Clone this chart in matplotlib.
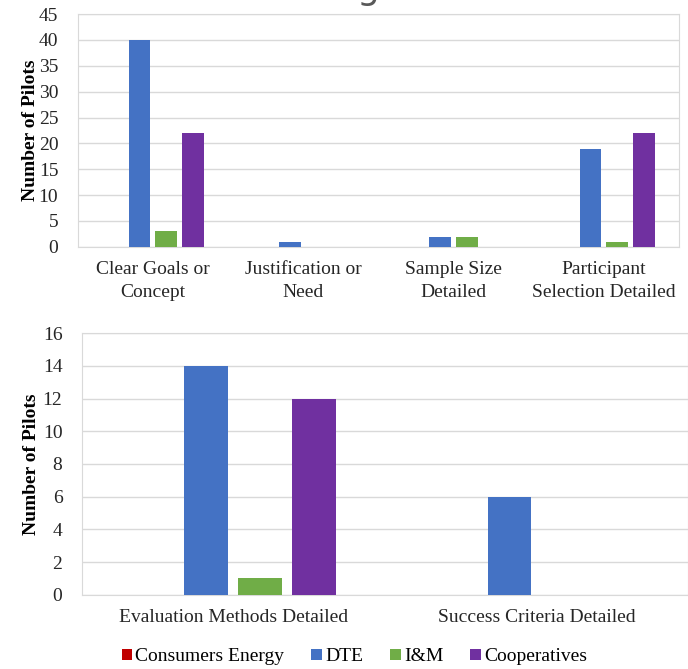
import numpy as np
import matplotlib
matplotlib.use("Agg")
import matplotlib.pyplot as plt
from matplotlib.patches import Patch

plt.rcParams["font.family"] = ["Liberation Serif", "DejaVu Serif"]

series = ["Consumers Energy", "DTE", "I&M", "Cooperatives"]
colors = ["#C00000", "#4472C4", "#70AD47", "#7030A0"]

top_categories = ["Clear Goals or\nConcept", "Justification or\nNeed",
                  "Sample Size\nDetailed", "Participant\nSelection Detailed"]
top_consumers = [0, 0, 0, 0]
top_dte = [40, 1, 2, 19]
top_im = [3, 0, 2, 1]
top_coop = [22, 0, 0, 22]

bottom_categories = ["Evaluation Methods Detailed", "Success Criteria Detailed"]
bottom_consumers = [0, 0]
bottom_dte = [14, 6]
bottom_im = [1, 0]
bottom_coop = [12, 0]


def draw_panel(ax, categories, values, ymax, ystep, labelpad):
    x = np.arange(len(categories))
    spacing = 0.178
    width = 0.145
    for i, (vals, col) in enumerate(zip(values, colors)):
        ax.bar(x + (i - 1.5) * spacing, vals, width, color=col, zorder=3)
    ax.set_xlim(-0.5, len(categories) - 0.5)
    ax.set_ylim(0, ymax)
    ax.set_yticks(np.arange(0, ymax + 1, ystep))
    ax.set_xticks(x)
    ax.set_xticklabels(categories, fontsize=14, linespacing=1.45)
    ax.tick_params(axis="both", length=0, labelsize=14, colors="#262626")
    ax.tick_params(axis="x", pad=10)
    ax.tick_params(axis="y", pad=14)
    ax.grid(axis="y", color="#D9D9D9", linewidth=1, zorder=0)
    for sp in ax.spines.values():
        sp.set_color("#D9D9D9")
    ax.set_ylabel("Number of Pilots", fontsize=14, fontweight="bold",
                  labelpad=labelpad)


fig = plt.figure(figsize=(6.88, 6.69), dpi=100)

ax1 = fig.add_axes([0.113, 0.631, 0.874, 0.348])
draw_panel(ax1, top_categories,
           [top_consumers, top_dte, top_im, top_coop], 45, 5, 0)

ax2 = fig.add_axes([0.119, 0.111, 0.881, 0.391])
draw_panel(ax2, bottom_categories,
           [bottom_consumers, bottom_dte, bottom_im, bottom_coop], 16, 2, 2)

handles = [Patch(facecolor=c, edgecolor="none") for c in colors]
fig.legend(handles, series, loc="center", bbox_to_anchor=(0.515, 0.018),
           ncol=4, frameon=False, fontsize=14, handlelength=0.55,
           handleheight=0.55, handletextpad=0.15, columnspacing=1.4)

# clipped remnant of the original title
fig.text(0.535, 1.002, "g", fontsize=26, color="#595959",
         family="DejaVu Sans", va="baseline", ha="center")

fig.savefig("out.png", dpi=100)
